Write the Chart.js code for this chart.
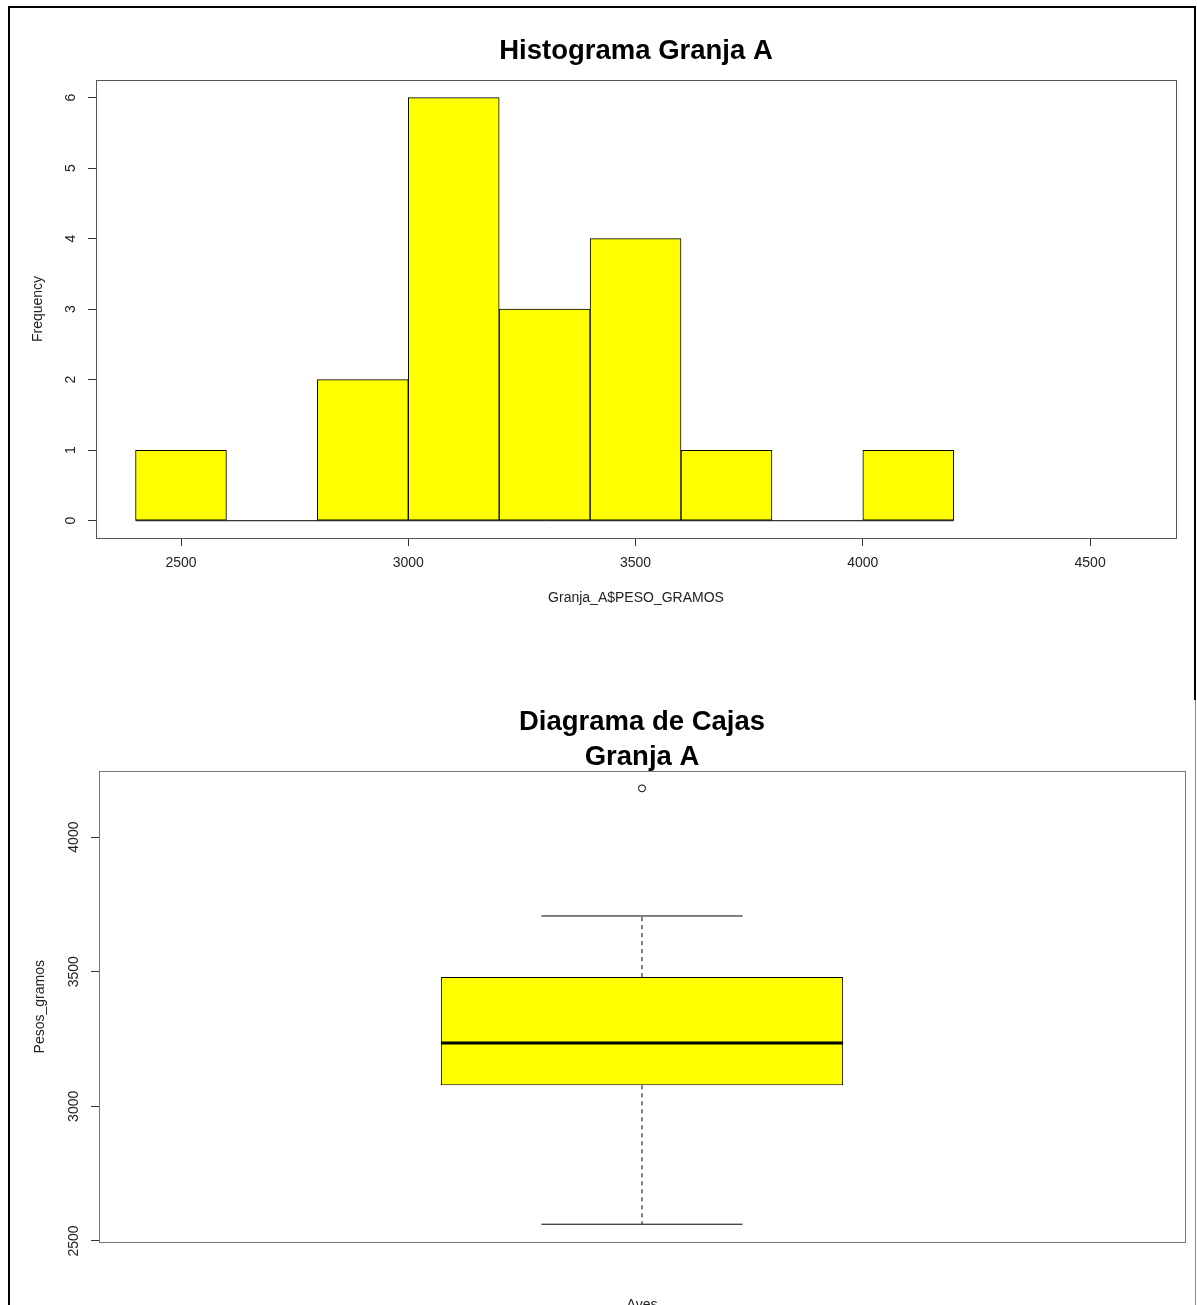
<!DOCTYPE html>
<html>
<head>
<meta charset="utf-8">
<title>Granja A</title>
<script src="https://cdn.jsdelivr.net/npm/chart.js@4.4.1/dist/chart.umd.min.js"></script>
<style>
    html, body { margin: 0; padding: 0; background: #fff; overflow: hidden; }
    body { width: 1197px; height: 1305px; position: relative; }
    canvas { position: absolute; left: 0; }
    #histCanvas { top: 0; }
    #boxCanvas { top: 645px; }
    .edge { position: absolute; }
</style>
</head>
<body>
<canvas id="histCanvas" width="1197" height="650"></canvas>
<canvas id="boxCanvas" width="1197" height="680"></canvas>
<div class="edge" style="left:8px;top:6px;width:2px;height:1299px;background:#000"></div>
<div class="edge" style="left:8px;top:6px;width:1188px;height:2px;background:#000"></div>
<div class="edge" style="left:1194px;top:6px;width:2px;height:694px;background:#000"></div>
<div class="edge" style="left:1195px;top:700px;width:1px;height:605px;background:#888"></div>

<script>
// histograma: cortes de clase y frecuencias
const breaks = [2400, 2600, 2800, 3000, 3200, 3400, 3600, 3800, 4000, 4200];
const counts = [1, 0, 2, 6, 3, 4, 1, 0, 1];
const histXTicks = [2500, 3000, 3500, 4000, 4500];
const histYTicks = [0, 1, 2, 3, 4, 5, 6];

// diagrama de cajas: bigote inf, Q1, mediana, Q3, bigote sup
const boxStats = [2562, 3078, 3235, 3480, 3707];
const outliers = [4181];
const boxYTicks = [2500, 3000, 3500, 4000];

Chart.defaults.font.family = '"Liberation Sans", Arial, sans-serif';
Chart.defaults.font.size = 14;
Chart.defaults.color = '#222';

const plotFrame = {
    id: 'plotFrame',
    afterDraw(chart, args, opts) {
        const { ctx, chartArea: a } = chart;
        ctx.save();
        ctx.strokeStyle = opts.color || '#555';
        ctx.lineWidth = 1;
        ctx.strokeRect(Math.round(a.left) + 0.5, Math.round(a.top) + 0.5,
            Math.round(a.right - a.left), Math.round(a.bottom - a.top));
        ctx.restore();
    }
};

// etiquetas del eje y giradas como en R (las = 0)
const verticalYLabels = {
    id: 'verticalYLabels',
    afterDraw(chart) {
        const scale = chart.scales.y;
        const ctx = chart.ctx;
        ctx.save();
        ctx.font = '14px "Liberation Sans", Arial, sans-serif';
        ctx.fillStyle = '#222';
        ctx.textAlign = 'center';
        ctx.textBaseline = 'middle';
        scale.ticks.forEach((t, i) => {
            ctx.save();
            ctx.translate(scale.right - 25, scale.getPixelForTick(i));
            ctx.rotate(-Math.PI / 2);
            ctx.fillText(String(t.value), 0, 0);
            ctx.restore();
        });
        ctx.restore();
    }
};

function renderHistograma() {
    const bins = counts.map((c, i) => ({ x: (breaks[i] + breaks[i + 1]) / 2, y: c }));

    new Chart(document.getElementById('histCanvas'), {
        type: 'bar',
        data: {
            datasets: [
                {
                    type: 'line',
                    data: [{ x: breaks[0], y: 0 }, { x: breaks[breaks.length - 1], y: 0 }],
                    borderColor: '#000',
                    borderWidth: 1,
                    pointRadius: 0,
                    order: 1
                },
                {
                    data: bins,
                    backgroundColor: '#ffff00',
                    borderColor: '#000',
                    borderWidth: 1,
                    borderSkipped: false,
                    barPercentage: 1,
                    categoryPercentage: 1,
                    order: 2
                }
            ]
        },
        options: {
            responsive: false,
            animation: false,
            devicePixelRatio: 1,
            layout: { padding: { left: 8, top: 0, right: 21, bottom: 0 } },
            plugins: {
                legend: { display: false },
                tooltip: { enabled: false },
                title: {
                    display: true,
                    fullSize: false,
                    text: 'Histograma Granja A',
                    color: '#000',
                    font: { size: 27.5, weight: 'bold' },
                    padding: { top: 35, bottom: 12 }
                },
                plotFrame: { color: '#555' }
            },
            scales: {
                x: {
                    type: 'linear',
                    min: 2313,
                    max: 4689,
                    offset: false,
                    afterBuildTicks: s => { s.ticks = histXTicks.map(v => ({ value: v })); },
                    afterFit: s => { s.height = 112; },
                    grid: { offset: false, drawOnChartArea: false, tickLength: 8, color: '#333' },
                    border: { display: false },
                    ticks: { padding: 9, color: '#222', callback: v => String(v) },
                    title: {
                        display: true,
                        text: 'Granja_A$PESO_GRAMOS',
                        color: '#222',
                        padding: { top: 0, bottom: 43 }
                    }
                },
                y: {
                    type: 'linear',
                    min: -0.245,
                    max: 6.25,
                    afterBuildTicks: s => { s.ticks = histYTicks.map(v => ({ value: v })); },
                    afterFit: s => { s.width = 88; },
                    grid: { offset: false, drawOnChartArea: false, tickLength: 8, color: '#333' },
                    border: { display: false },
                    ticks: { display: false },
                    title: {
                        display: true,
                        text: 'Frequency',
                        color: '#222',
                        padding: { top: 22, bottom: 0 }
                    }
                }
            }
        },
        plugins: [plotFrame, verticalYLabels]
    });
}

function renderCajas() {
    const center = 1;
    const boxWidth = 0.4;
    const xMin = 0.46, xMax = 1.54;

    const seg = (x0, x1, y0, y1, extra) => Object.assign({
        type: 'line',
        data: [{ x: x0, y: y0 }, { x: x1, y: y1 }],
        borderColor: '#000',
        borderWidth: 1,
        pointRadius: 0,
        order: 1
    }, extra || {});

    new Chart(document.getElementById('boxCanvas'), {
        type: 'bar',
        data: {
            datasets: [
                {
                    data: [{ x: center, y: [boxStats[1], boxStats[3]] }],
                    backgroundColor: '#ffff00',
                    borderColor: '#000',
                    borderWidth: 1,
                    borderSkipped: false,
                    barPercentage: boxWidth / (xMax - xMin),
                    categoryPercentage: 1,
                    order: 2
                },
                seg(center - boxWidth / 2, center + boxWidth / 2, boxStats[2], boxStats[2], { borderWidth: 3 }),
                seg(center, center, boxStats[3], boxStats[4], { borderDash: [4, 4] }),
                seg(center, center, boxStats[1], boxStats[0], { borderDash: [4, 4] }),
                seg(center - boxWidth / 4, center + boxWidth / 4, boxStats[4], boxStats[4]),
                seg(center - boxWidth / 4, center + boxWidth / 4, boxStats[0], boxStats[0]),
                {
                    type: 'line',
                    data: outliers.map(v => ({ x: center, y: v })),
                    showLine: false,
                    pointStyle: 'circle',
                    pointRadius: 3.5,
                    pointBackgroundColor: 'rgba(0,0,0,0)',
                    pointBorderColor: '#000',
                    pointBorderWidth: 1,
                    order: 1
                }
            ]
        },
        options: {
            responsive: false,
            animation: false,
            devicePixelRatio: 1,
            layout: { padding: { left: 8, top: 0, right: 12, bottom: 0 } },
            plugins: {
                legend: { display: false },
                tooltip: { enabled: false },
                title: {
                    display: true,
                    fullSize: false,
                    text: ['Diagrama de Cajas', 'Granja A'],
                    color: '#000',
                    font: { size: 27.5, weight: 'bold', lineHeight: 1.28 },
                    padding: { top: 60, bottom: -4 }
                },
                plotFrame: { color: '#777' }
            },
            scales: {
                x: {
                    type: 'linear',
                    min: xMin,
                    max: xMax,
                    offset: false,
                    afterBuildTicks: s => { s.ticks = []; },
                    afterFit: s => { s.height = 83; },
                    grid: { display: false, offset: false },
                    border: { display: false },
                    ticks: { display: false },
                    title: {
                        display: true,
                        text: 'Aves',
                        color: '#222',
                        padding: { top: 0, bottom: 11 }
                    }
                },
                y: {
                    type: 'linear',
                    min: 2496,
                    max: 4244,
                    afterBuildTicks: s => { s.ticks = boxYTicks.map(v => ({ value: v })); },
                    afterFit: s => { s.width = 91; },
                    grid: { offset: false, drawOnChartArea: false, tickLength: 8, color: '#333' },
                    border: { display: false },
                    ticks: { display: false },
                    title: {
                        display: true,
                        text: 'Pesos_gramos',
                        color: '#222',
                        padding: { top: 24, bottom: 0 }
                    }
                }
            }
        },
        plugins: [plotFrame, verticalYLabels]
    });
}

renderHistograma();
renderCajas();
</script>
</body>
</html>
